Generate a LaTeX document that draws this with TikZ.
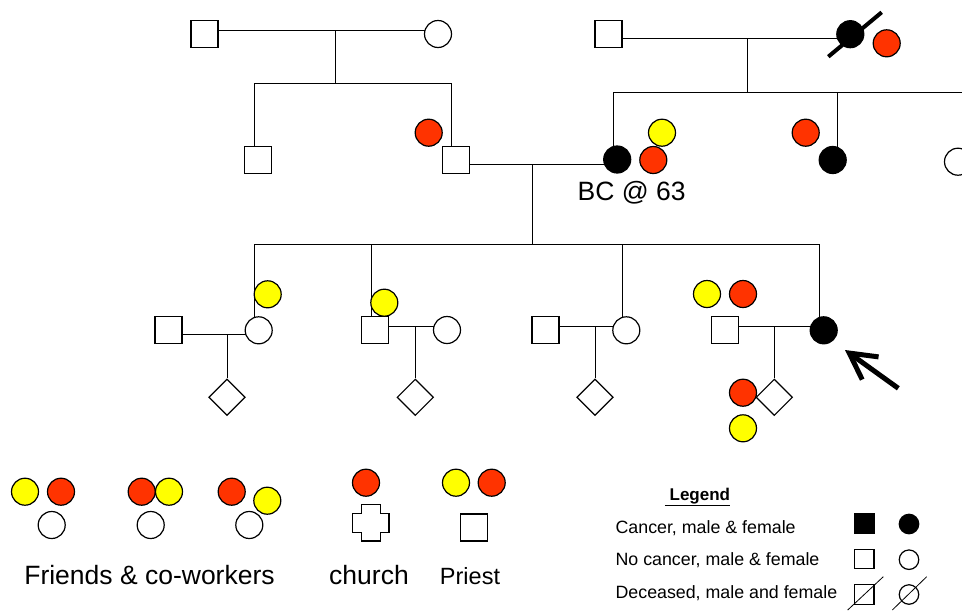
\documentclass[tikz,border=0pt]{standalone}
\usepackage{fontspec}
\setmainfont{Liberation Sans}
\usetikzlibrary{shapes.geometric,arrows.meta,backgrounds}
\definecolor{bcred}{RGB}{255,51,0}
\definecolor{bcyellow}{RGB}{255,255,0}
\tikzset{
  male/.style={draw, rectangle, minimum size=27pt, inner sep=0pt, fill=white},
  female/.style={draw, circle, minimum size=27pt, inner sep=0pt, fill=white},
  child/.style={draw, diamond, aspect=1, minimum size=36.5pt, inner sep=0pt, fill=white},
  aff/.style={fill=black},
  smallsym/.style={minimum size=19.5pt},
  redmark/.style={draw, circle, minimum size=27pt, inner sep=0pt, fill=bcred},
  yelmark/.style={draw, circle, minimum size=27pt, inner sep=0pt, fill=bcyellow},
  bigtext/.style={anchor=base, inner sep=0pt, font=\fontsize{26.5}{30}\selectfont},
  legtext/.style={anchor=base west, inner sep=0pt, font=\fontsize{17.8}{21}\selectfont},
}
\begin{document}
\begin{tikzpicture}[x=1pt, y=-1pt, line width=1.2pt]
\useasboundingbox (0,0) rectangle (962,611);
% first generation
\node[male] (g1a) at (204.5,34) {};
\node[female] (g1b) at (438,34) {};
\node[male] (g1c) at (608.5,34) {};
\node[female, aff] (g1d) at (850.3,34.2) {};
\draw[line width=4pt] ([shift={(-22,22.5)}]g1d.center) -- ([shift={(31.4,-21.9)}]g1d.center);
% second generation
\node[male] (g2a) at (258.3,159.7) {};
\node[male] (g2b) at (455.8,159.7) {};
\node[female, aff] (g2c) at (617.2,159.5) {};
\node[female, aff] (g2d) at (832.7,160) {};
\node[female] (g2e) at (958,161.7) {};
% third generation with spouses
\node[male] (h3a) at (168.5,330) {};
\node[female] (g3a) at (258.7,330.3) {};
\node[male] (g3b) at (375.2,330) {};
\node[female] (h3b) at (447,330) {};
\node[male] (h3c) at (545.5,330) {};
\node[female] (g3c) at (626.3,330.3) {};
\node[male] (h3d) at (725.2,330.2) {};
\node[female, aff] (g3d) at (823.7,330.3) {};
\node[child] (k1) at (227,397.3) {};
\node[child] (k2) at (415.3,397.3) {};
\node[child] (k3) at (595,397.3) {};
\node[child] (k4) at (774.3,397.3) {};
\coordinate (m1) at (334.7,30);
\coordinate (s1) at (334.7,83.3);
\coordinate (d2a) at (254,83.3);
\coordinate (d2b) at (451.3,83.3);
\coordinate (m2) at (747.3,38.3);
\coordinate (s2) at (747.3,92.3);
\coordinate (d2c) at (612.7,92.3);
\coordinate (d2d) at (836.7,92.3);
\coordinate (e2) at (962,92.3);
\coordinate (m3) at (532,164);
\coordinate (s3) at (532,244.5);
\coordinate (d3a) at (254,244.5);
\coordinate (d3b) at (370.7,244.5);
\coordinate (d3c) at (622,244.5);
\coordinate (d3d) at (819,244.5);
\coordinate (m4a) at (227,334.3);
\coordinate (m4b) at (415.3,326);
\coordinate (m4c) at (595,326);
\coordinate (m4d) at (774.3,326);
\begin{scope}[on background layer]
\draw (g1a |- m1) -- (g1b |- m1);
\draw (m1) -- (s1);
\draw (d2a |- g2a) -- (d2a) -- (d2b) -- (d2b |- g2b);
\draw (g1c |- m2) -- (g1d |- m2);
\draw (m2) -- (s2);
\draw (d2c |- g2c) -- (d2c) -- (e2);
\draw (d2d) -- (d2d |- g2d);
\draw (g2b |- m3) -- (g2c |- m3);
\draw (m3) -- (s3);
\draw (d3a |- g3a) -- (d3a) -- (d3d) -- (d3d |- g3d);
\draw (d3b) -- (d3b |- g3b);
\draw (d3c) -- (d3c |- g3c);
\draw (h3a |- m4a) -- (g3a |- m4a);
\draw (m4a) -- (k1);
\draw (g3b |- m4b) -- (h3b |- m4b);
\draw (m4b) -- (k2);
\draw (h3c |- m4c) -- (g3c |- m4c);
\draw (m4c) -- (k3);
\draw (h3d |- m4d) -- (g3d |- m4d);
\draw (m4d) -- (k4);
\end{scope}
% contact marks
\node[redmark] (r1) at (886.7,43.3) {};
\node[redmark] (r2) at (428.7,132.7) {};
\node[yelmark] (y1) at (662,132.7) {};
\node[redmark] (r3) at (653.3,160) {};
\node[redmark] (r4) at (805.7,132.7) {};
\node[yelmark] (y2) at (267.7,294.3) {};
\node[yelmark] (y3) at (384.3,302.7) {};
\node[yelmark] (y4) at (707,294) {};
\node[redmark] (r5) at (743,294) {};
\node[redmark] (r6) at (743,392.7) {};
\node[yelmark] (y5) at (743,428.3) {};
\node[bigtext] (bc) at (631.7,200) {BC @ 63};
\coordinate (a1) at (898.3,388.3);
\coordinate (a2) at (845,350);
\draw[line width=5pt, -{Straight Barb[length=26pt, width=28pt]}] (a1) -- (a2);
% key of contacts
\node[yelmark] (f1y) at (25,491.7) {};
\node[redmark] (f1r) at (61,491.7) {};
\node[female] (f1w) at (51.7,525) {};
\node[redmark] (f2r) at (141.7,491.7) {};
\node[yelmark] (f2y) at (169,491.7) {};
\node[female] (f2w) at (150.7,525) {};
\node[redmark] (f3r) at (231.7,491.7) {};
\node[yelmark] (f3y) at (267.3,500.7) {};
\node[female] (f3w) at (249.3,525) {};
\node[redmark] (c1r) at (366,482.7) {};
\coordinate (cross) at (370.7,522.7);
\draw[fill=white] (cross) ++(-9.6,-18.3) -- ++(19.2,0) -- ++(0,8.7) -- ++(8.7,0)
  -- ++(0,19.2) -- ++(-8.7,0) -- ++(0,8.7) -- ++(-19.2,0) -- ++(0,-8.7)
  -- ++(-8.7,0) -- ++(0,-19.2) -- ++(8.7,0) -- cycle;
\node[yelmark] (p1y) at (456,482.7) {};
\node[redmark] (p1r) at (491.7,482.7) {};
\node[male] (p1) at (473.7,527.5) {};
\node[bigtext] (fr) at (149.5,584) {Friends \& co-workers};
\node[bigtext] (ch) at (369,584) {church};
\node[bigtext, font=\fontsize{23.5}{28}\selectfont] (pr) at (470,584) {Priest};
% legend
\node[legtext, font=\fontsize{17}{20}\selectfont] (lg) at (664.3,500) {\underline{\textbf{\ Legend}}};
\node[legtext] (l1) at (615,533.3) {Cancer, male \& female};
\node[legtext] (l2) at (615,565) {No cancer, male \& female};
\node[legtext] (l3) at (615,598.3) {Deceased, male and female};
\node[male, smallsym, aff] (q1) at (864.2,523.7) {};
\node[female, smallsym, aff] (q2) at (909,524) {};
\node[male, smallsym] (q3) at (864.2,559) {};
\node[female, smallsym] (q4) at (909,559.7) {};
\node[male, smallsym] (q5) at (864.2,594.5) {};
\node[female, smallsym] (q6) at (909,594.5) {};
\draw[line width=0.8pt] ([shift={(-16.5,15.5)}]q5.center) -- ([shift={(19.1,-17.8)}]q5.center);
\draw[line width=0.8pt] ([shift={(-16.7,15.5)}]q6.center) -- ([shift={(17.7,-17.8)}]q6.center);
\end{tikzpicture}
\end{document}
